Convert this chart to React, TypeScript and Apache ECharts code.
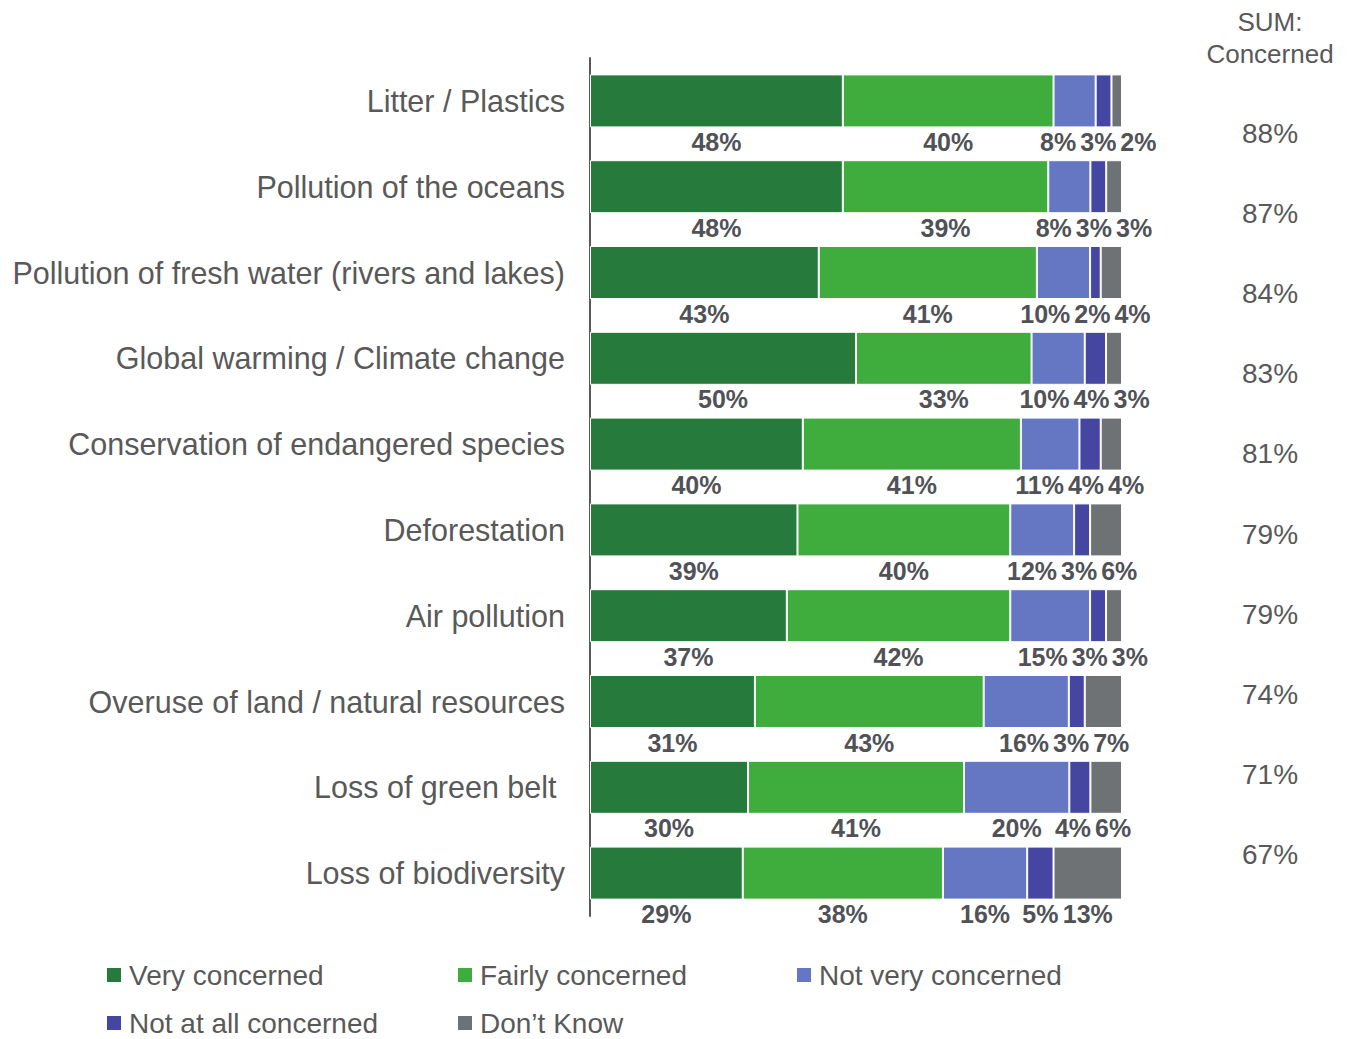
import React, { useEffect, useRef } from "react";
import * as echarts from "echarts";

// Survey topics, top to bottom
const categories = [
  "Litter / Plastics",
  "Pollution of the oceans",
  "Pollution of fresh water (rivers and lakes)",
  "Global warming / Climate change",
  "Conservation of endangered species",
  "Deforestation",
  "Air pollution",
  "Overuse of land / natural resources",
  "Loss of green belt ",
  "Loss of biodiversity",
];

const seriesNames = [
  "Very concerned",
  "Fairly concerned",
  "Not very concerned",
  "Not at all concerned",
  "Don\u2019t Know",
];

// Percentages per answer, one entry per topic
const veryConcerned = [48, 48, 43, 50, 40, 39, 37, 31, 30, 29];
const fairlyConcerned = [40, 39, 41, 33, 41, 40, 42, 43, 41, 38];
const notVeryConcerned = [8, 8, 10, 10, 11, 12, 15, 16, 20, 16];
const notAtAllConcerned = [3, 3, 2, 4, 4, 3, 3, 3, 4, 5];
const dontKnow = [2, 3, 4, 3, 4, 6, 3, 7, 6, 13];

// "SUM: Concerned" column
const sumConcerned = ["88%", "87%", "84%", "83%", "81%", "79%", "79%", "74%", "71%", "67%"];

const colors = ["#267a3b", "#3fac3e", "#6577c2", "#4545a2", "#6e7275"];
const textColor = "#595959";
const labelColor = "#505257";
const fontFamily = "'Liberation Sans', Arial, sans-serif";

const GRID_LEFT = 590;
const GRID_RIGHT = 225;
const CHART_W = 1347;
const LABEL_FONT = 25;
const LABEL_GAP = 4;

// width of a bold value label in pixels
function measure(text: string): number {
  const c = document.createElement("canvas").getContext("2d");
  if (!c) return text.length * LABEL_FONT * 0.6;
  c.font = `bold ${LABEL_FONT}px 'Liberation Sans', Arial, sans-serif`;
  return c.measureText(text).width;
}

// Spread the value labels of one bar so they don't collide:
// overlapping labels are merged into clusters centred on their segments.
function dodge(centers: number[], widths: number[]): number[] {
  type Cluster = { idx: number[]; start: number; width: number };
  const clusters: Cluster[] = [];
  const place = (c: Cluster) => {
    const mean = c.idx.reduce((s, i) => s + centers[i], 0) / c.idx.length;
    let acc = 0;
    const offs: number[] = [];
    c.idx.forEach((i, k) => {
      offs.push(acc + widths[i] / 2);
      acc += widths[i] + (k < c.idx.length - 1 ? LABEL_GAP : 0);
    });
    c.width = acc;
    // keep the group's average label centre at the average segment centre
    const meanOff = offs.reduce((s, o) => s + o, 0) / offs.length;
    c.start = mean - meanOff;
  };
  centers.forEach((_, i) => {
    const c: Cluster = { idx: [i], start: 0, width: 0 };
    place(c);
    clusters.push(c);
    while (clusters.length > 1) {
      const a = clusters[clusters.length - 2];
      const b = clusters[clusters.length - 1];
      if (a.start + a.width + LABEL_GAP > b.start) {
        clusters.pop();
        a.idx = a.idx.concat(b.idx);
        place(a);
      } else break;
    }
  });
  const out: number[] = new Array(centers.length);
  clusters.forEach((c) => {
    let x = c.start;
    c.idx.forEach((i) => {
      out[i] = x + widths[i] / 2;
      x += widths[i] + LABEL_GAP;
    });
  });
  return out;
}

export default function App() {
  const ref = useRef<HTMLDivElement>(null);

  useEffect(() => {
    document.body.style.margin = "0";
    if (!ref.current) return;
    const chart = echarts.init(ref.current, undefined, { renderer: "svg" });

    const rows = [veryConcerned, fairlyConcerned, notVeryConcerned, notAtAllConcerned, dontKnow];
    // each bar is scaled to fill 100%
    const totals = categories.map((_, i) => rows.reduce((s, r) => s + r[i], 0));
    const plotW = CHART_W - GRID_LEFT - GRID_RIGHT;

    // horizontal shift of each value label, per series and topic
    const shifts = rows.map(() => new Array(categories.length).fill(0));
    categories.forEach((_, i) => {
      let cum = 0;
      const centers: number[] = [];
      const widths: number[] = [];
      rows.forEach((r) => {
        const w = (r[i] / totals[i]) * plotW;
        centers.push(cum + w / 2);
        cum += w;
        widths.push(measure(r[i] + "%"));
      });
      const placed = dodge(centers, widths);
      rows.forEach((_, k) => {
        shifts[k][i] = placed[k] - centers[k];
      });
    });

    const series = rows.map((vals, k) => ({
      name: seriesNames[k],
      type: "bar",
      stack: "total",
      barWidth: 53,
      itemStyle: { color: colors[k], borderColor: "#ffffff", borderWidth: 1 },
      label: {
        show: true,
        position: "bottom",
        distance: 2,
        color: labelColor,
        fontSize: LABEL_FONT,
        fontWeight: "bold",
        fontFamily,
        formatter: (p: any) => p.data.raw + "%",
      },
      data: vals.map((v, i) => ({
        value: (v / totals[i]) * 100,
        raw: v,
        label: { offset: [shifts[k][i], 0] },
      })),
    }));

    const sumTexts = sumConcerned.map((s, i) => ({
      type: "text",
      x: 1270,
      y: 133 + i * 80.2,
      style: {
        text: s,
        textAlign: "center",
        textVerticalAlign: "middle",
        fill: textColor,
        fontSize: 28,
        fontFamily,
      },
    }));

    const legendBase = {
      orient: "vertical",
      icon: "rect",
      itemWidth: 16,
      itemHeight: 16,
      itemGap: 20,
      padding: 0,
      top: 961,
      height: 76,
      textStyle: { color: textColor, fontSize: 28, lineHeight: 28, fontFamily, padding: [0, 0, 0, 2] },
    };

    chart.setOption({
      animation: false,
      color: colors,
      textStyle: { fontFamily },
      legend: [
        { ...legendBase, left: 105, data: [seriesNames[0], seriesNames[3]] },
        { ...legendBase, left: 456, data: [seriesNames[1], seriesNames[4]] },
        { ...legendBase, left: 795, data: [seriesNames[2]] },
      ],
      grid: { left: GRID_LEFT, right: GRID_RIGHT, top: 58, height: 858 },
      xAxis: {
        type: "value",
        min: 0,
        max: 100,
        show: false,
      },
      yAxis: {
        type: "category",
        inverse: true,
        data: categories,
        axisLine: { show: true, lineStyle: { color: "#595959", width: 2 } },
        axisTick: { show: false },
        axisLabel: {
          color: textColor,
          fontSize: 30.5,
          fontFamily,
          margin: 25,
          verticalAlign: "middle",
          padding: [0, 0, 5, 0],
        },
      },
      series,
      graphic: [
        {
          type: "text",
          x: 1270,
          y: 38,
          style: {
            text: "SUM:\nConcerned",
            textAlign: "center",
            textVerticalAlign: "middle",
            fill: textColor,
            fontSize: 26,
            lineHeight: 32,
            fontFamily,
          },
        },
        ...sumTexts,
      ],
    });

    return () => chart.dispose();
  }, []);

  return <div ref={ref} style={{ width: 1347, height: 1039 }} />;
}
